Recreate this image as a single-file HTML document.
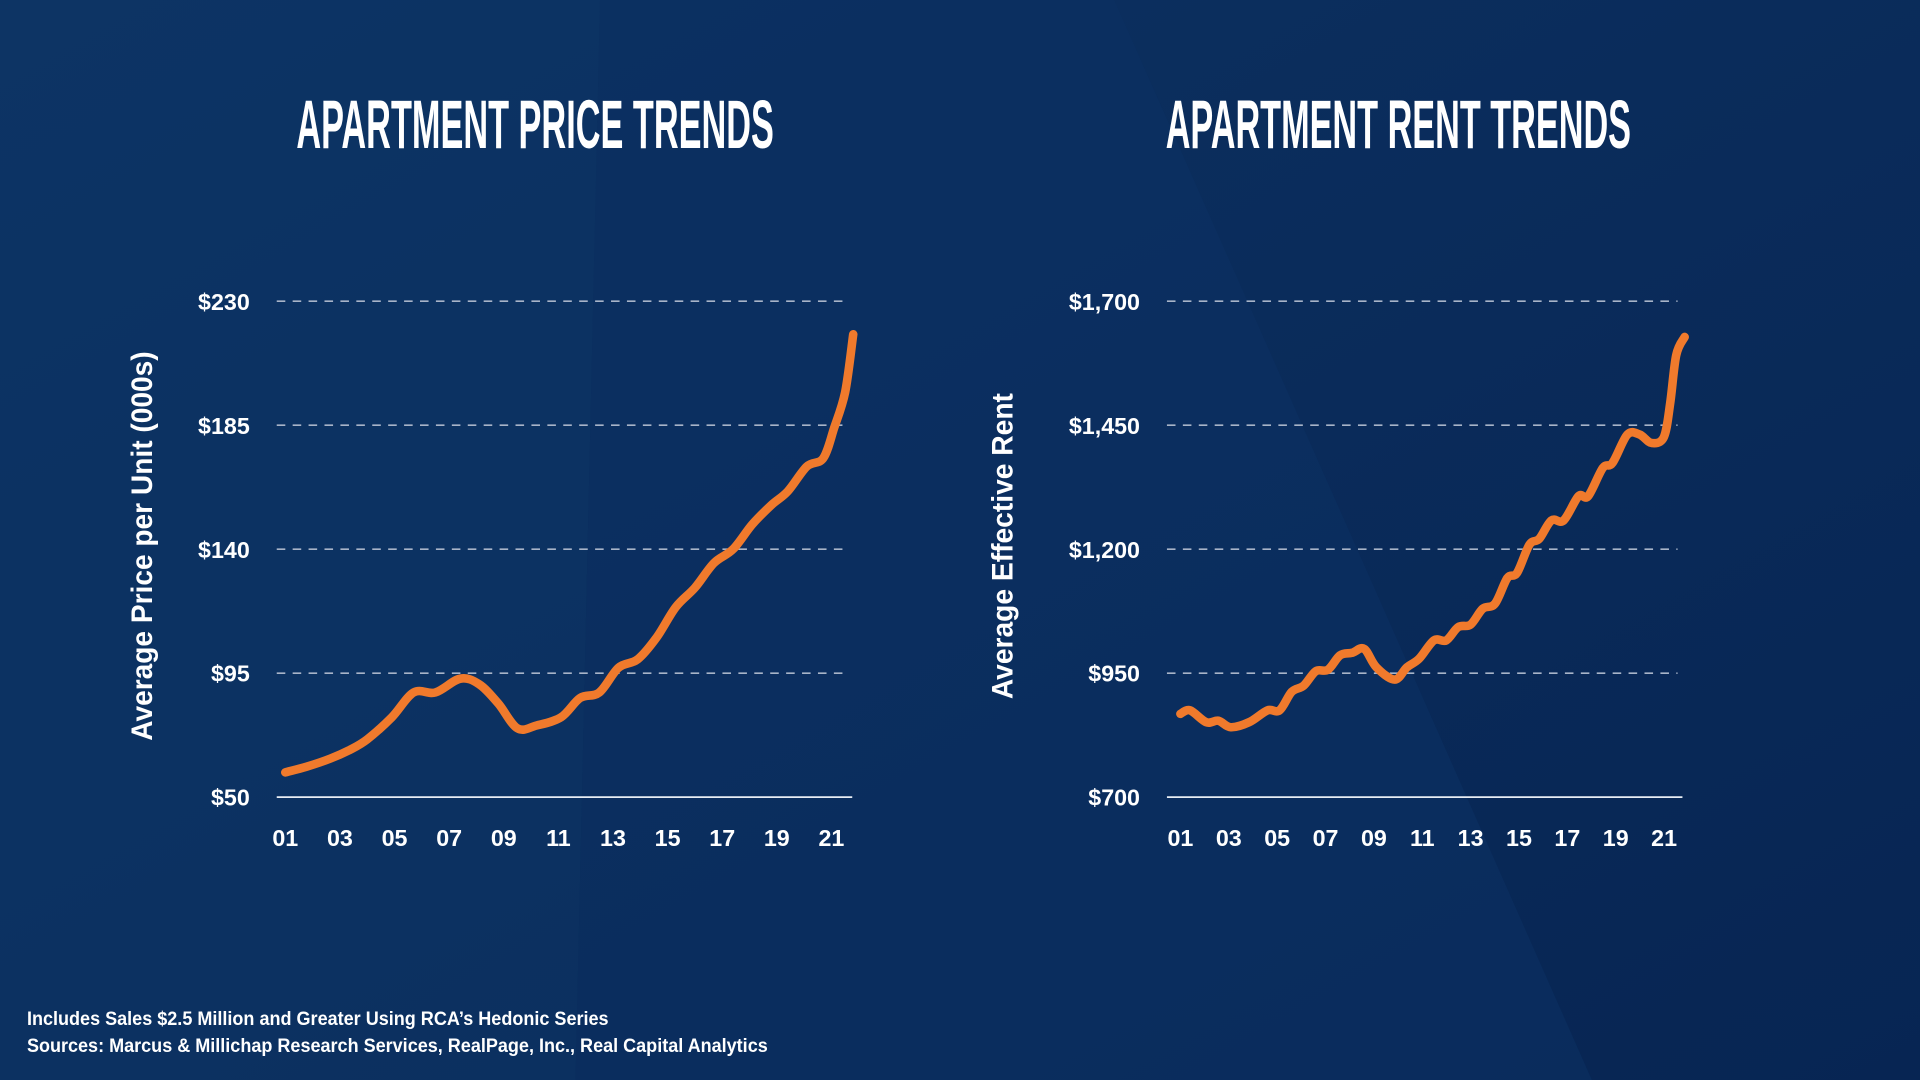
<!DOCTYPE html>
<html><head><meta charset="utf-8"><style>
html,body{margin:0;padding:0;width:1920px;height:1080px;overflow:hidden;background:#0a2a58;}
svg{display:block}
text{font-family:"Liberation Sans",sans-serif;fill:#fff;font-weight:bold}
</style></head><body>
<svg id="root" width="1920" height="1080" viewBox="0 0 1568 882">
<defs>
<linearGradient id="bg" x1="0" y1="0" x2="1" y2="1">
<stop offset="0" stop-color="#0d3262"/><stop offset="1" stop-color="#072553"/>
</linearGradient>
</defs>
<rect width="1568" height="882" fill="url(#bg)"/>
<polygon points="0,0 490,0 470,882 0,882" fill="#0e3566" opacity="0.6"/>
<polygon points="490,0 910,0 1300,882 470,882" fill="#0c3062" opacity="0.6"/>
<text x="437" y="121" font-size="56" text-anchor="middle" textLength="390" lengthAdjust="spacingAndGlyphs">APARTMENT PRICE TRENDS</text>
<text x="1142" y="121" font-size="56" text-anchor="middle" textLength="380" lengthAdjust="spacingAndGlyphs">APARTMENT RENT TRENDS</text>
<text transform="translate(124,446) rotate(-90)" font-size="24" text-anchor="middle" textLength="318" lengthAdjust="spacingAndGlyphs">Average Price per Unit (000s)</text>
<text transform="translate(827,446) rotate(-90)" font-size="24" text-anchor="middle" textLength="250" lengthAdjust="spacingAndGlyphs">Average Effective Rent</text>
<text x="22" y="837" font-size="16" textLength="475" lengthAdjust="spacingAndGlyphs">Includes Sales $2.5 Million and Greater Using RCA’s Hedonic Series</text>
<text x="22" y="859" font-size="16" textLength="605" lengthAdjust="spacingAndGlyphs">Sources: Marcus &amp; Millichap Research Services, RealPage, Inc., Real Capital Analytics</text>
<g id="c1"></g><g id="c2"></g>
</svg>
<script>
const priceYears=[2001,2001.76,2002.65,2003.33,2004,2004.9,2005.7,2006.5,2007.4,2008.1,2008.8,2009.5,2010.2,2011.1,2011.8,2012.5,2013.2,2013.9,2014.6,2015.3,2016,2016.7,2017.4,2018.1,2018.8,2019.4,2020.1,2020.7,2021.1,2021.5,2021.8];
const priceValues=[59,61,64,67,71,79,88,88,93,91,84,75,76,79,86,88,97,100,108,119,126,135,140,149,156,161,170,173,184,197,218];
const priceTicks=[50,95,140,185,230];
const priceTickLabels=["$50","$95","$140","$185","$230"];
const rentYears=[2001,2001.4,2002.07,2002.57,2003.08,2003.84,2004.6,2005.1,2005.6,2006.1,2006.6,2007.1,2007.6,2008.1,2008.6,2009.1,2009.86,2010.37,2010.87,2011.48,2011.99,2012.49,2013,2013.5,2014.01,2014.52,2014.92,2015.43,2015.84,2016.34,2016.85,2017.46,2017.86,2018.47,2018.87,2019.48,2019.99,2020.49,2020.99,2021.25,2021.5,2021.85];
const rentValues=[868,875,851,854,841,851,875,875,912,925,954,957,986,991,999,962,937,962,979,1016,1016,1043,1048,1080,1090,1142,1152,1209,1221,1258,1258,1307,1307,1364,1374,1431,1431,1414,1426,1493,1591,1628];
const rentTicks=[700,950,1200,1450,1700];
const rentTickLabels=["$700","$950","$1,200","$1,450","$1,700"];
const xTickLabels=["01","03","05","07","09","11","13","15","17","19","21"];
const xTickYears=[2001,2003,2005,2007,2009,2011,2013,2015,2017,2019,2021];
const NS="http://www.w3.org/2000/svg";
function mk(tag,attrs,parent){const e=document.createElementNS(NS,tag);for(const k in attrs)e.setAttribute(k,attrs[k]);parent.appendChild(e);return e;}
function smooth(pts){
  let d='M'+pts[0][0].toFixed(1)+','+pts[0][1].toFixed(1);
  for(let i=0;i<pts.length-1;i++){
    const p0=pts[Math.max(0,i-1)],p1=pts[i],p2=pts[i+1],p3=pts[Math.min(pts.length-1,i+2)];
    const c1=[p1[0]+(p2[0]-p0[0])/6,p1[1]+(p2[1]-p0[1])/6];
    const c2=[p2[0]-(p3[0]-p1[0])/6,p2[1]-(p3[1]-p1[1])/6];
    d+=' C'+c1[0].toFixed(1)+','+c1[1].toFixed(1)+' '+c2[0].toFixed(1)+','+c2[1].toFixed(1)+' '+p2[0].toFixed(1)+','+p2[1].toFixed(1);
  }
  return d;
}
function chart(g,cfg){
  const xs=t=>cfg.x0+(t-2001)*cfg.xpy;
  const ys=v=>651-(v-cfg.vmin)/(cfg.vmax-cfg.vmin)*405;
  cfg.ticks.forEach((v,i)=>{
    const y=ys(v);
    if(i>0){const l=mk('line',{x1:cfg.gx0,x2:cfg.gx1,y1:y,y2:y,stroke:'#a8b4c8','stroke-width':1.3,'stroke-dasharray':'7,6'},g);
      
      }
    const t=mk('text',{x:cfg.gx0-22,y:y+7,'font-size':19,'text-anchor':'end'},g);t.textContent=cfg.labels[i];
    
    
  });
  const b=mk('line',{x1:cfg.gx0,x2:cfg.gx1+4,y1:651,y2:651,stroke:'#e8edf4','stroke-width':1.5},g);
  
  
  xTickYears.forEach((yr,i)=>{
    const t=mk('text',{x:xs(yr),y:691,'font-size':19,'text-anchor':'middle'},g);t.textContent=xTickLabels[i];
    
    
  });
  const pts=cfg.years.map((yr,i)=>[xs(yr),ys(cfg.values[i])]);
  const p=mk('path',{d:smooth(pts),fill:'none',stroke:'#f07a2c','stroke-width':7,'stroke-linejoin':'round','stroke-linecap':'round'},g);
  
  
}
chart(document.getElementById('c1'),{p:'price',x0:233,xpy:22.3,vmin:50,vmax:230,ticks:priceTicks,labels:priceTickLabels,years:priceYears,values:priceValues,gx0:226,gx1:692});
chart(document.getElementById('c2'),{p:'rent',x0:964,xpy:19.75,vmin:700,vmax:1700,ticks:rentTicks,labels:rentTickLabels,years:rentYears,values:rentValues,gx0:953,gx1:1370});
</script>
</body></html>
